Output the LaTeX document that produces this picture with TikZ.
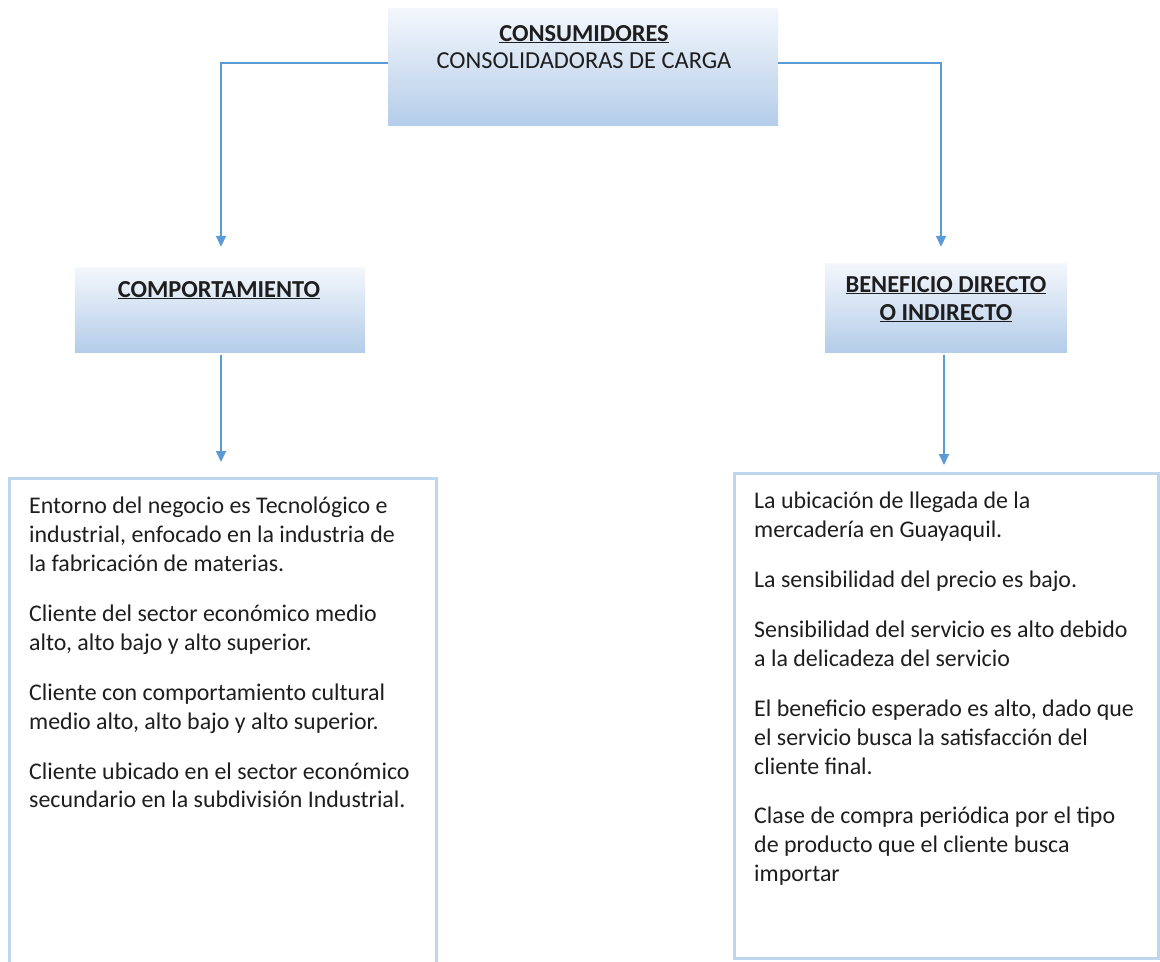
\documentclass[tikz,border=0pt]{standalone}
\usepackage{fontspec}
\setmainfont{Carlito}
\usetikzlibrary{arrows.meta}
\definecolor{conncol}{RGB}{91,155,213}
\definecolor{boxline}{RGB}{190,214,238}
\definecolor{headtop}{RGB}{244,247,252}
\definecolor{headbot}{RGB}{180,205,233}
\definecolor{txtcol}{RGB}{30,30,30}
\tikzset{
  hbox/.style={draw=none, top color=headtop, bottom color=headbot, inner sep=0pt},
  headb/.style={anchor=base, inner sep=0pt, text=txtcol, font=\fontsize{24.5}{28}\selectfont\bfseries},
  headr/.style={anchor=base, inner sep=0pt, text=txtcol, font=\fontsize{24.5}{28}\selectfont},
  tbox/.style={draw=boxline, line width=3bp, fill=white, inner sep=0pt, anchor=north west},
  body/.style={anchor=north west, inner sep=0pt, align=left, text=txtcol, font=\fontsize{24}{29}\selectfont},
  conn/.style={draw=conncol, line width=1.8bp, -{Triangle[width=10bp,length=11bp]}},
}
\begin{document}
\begin{tikzpicture}[x=1bp,y=-1bp]
\useasboundingbox (0,0) rectangle (1160,962);
% header boxes
\node[hbox, minimum width=390bp, minimum height=117bp] (top) at (583,66.5) {};
\node[headb] (t1) at (584,41) {\underline{CONSUMIDORES}};
\node[headr] (t2) at (584,68) {CONSOLIDADORAS DE CARGA};
\node[hbox, minimum width=290bp, minimum height=85bp] (comp) at (220,309.5) {};
\node[headb] (c1) at (219,297) {\underline{COMPORTAMIENTO}};
\node[hbox, minimum width=242bp, minimum height=89bp] (ben) at (946,307.5) {};
\node[headb] (b1) at (946,292) {\underline{BENEFICIO DIRECTO}};
\node[headb] (b2) at (946,320) {\underline{O INDIRECTO}};
% text boxes
\node[tbox, minimum width=427bp, minimum height=485bp] (lbox) at (8,477) {};
\node[tbox, minimum width=424bp, minimum height=485bp] (rbox) at (733,472) {};
\node[body] (ltext) at (29,497) {Entorno del negocio es Tecnológico e\\
industrial, enfocado en la industria de\\
la fabricación de materias.\\[21bp]
Cliente del sector económico medio\\
alto, alto bajo y alto superior.\\[21bp]
Cliente con comportamiento cultural\\
medio alto, alto bajo y alto superior.\\[21bp]
Cliente ubicado en el sector económico\\
secundario en la subdivisión Industrial.};
\node[body] (rtext) at (754,492) {La ubicación de llegada de la\\
mercadería en Guayaquil.\\[21bp]
La sensibilidad del precio es bajo.\\[21bp]
Sensibilidad del servicio es alto debido\\
a la delicadeza del servicio\\[21bp]
El beneficio esperado es alto, dado que\\
el servicio busca la satisfacción del\\
cliente final.\\[21bp]
Clase de compra periódica por el tipo\\
de producto que el cliente busca\\
importar};
% connectors
\draw[conn, shorten >=20bp] ([yshift=3.5bp]top.west) -| ([xshift=1bp]comp.north);
\draw[conn, shorten >=16bp] ([yshift=3.5bp]top.east) -| ([xshift=-5bp]ben.north);
\draw[conn, shorten <=3bp, shorten >=15bp] ([xshift=1bp]comp.south) -- ([xshift=1bp]comp.south |- lbox.north);
\draw[conn, shorten <=3bp, shorten >=7bp] ([xshift=-2bp]ben.south) -- ([xshift=-2bp]ben.south |- rbox.north);
\end{tikzpicture}
\end{document}
